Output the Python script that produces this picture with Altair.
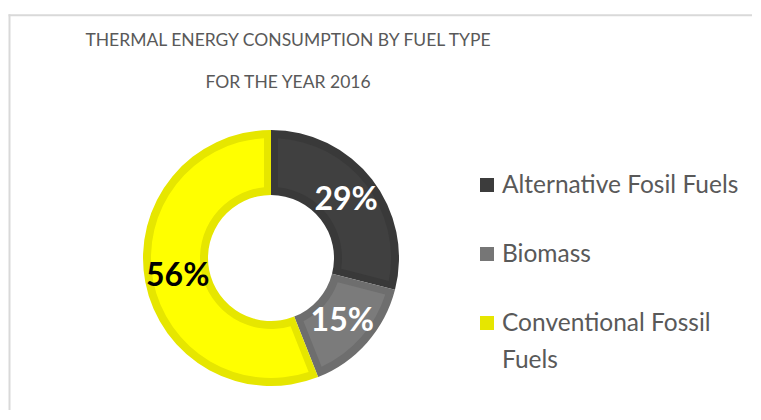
import altair as alt
import pandas as pd

categories = ["Alternative Fosil Fuels", "Biomass", "Conventional Fossil Fuels"]
shares = [29, 15, 56]
pct_labels = ["29%", "15%", "56%"]
legend_labels = ["Alternative Fosil Fuels", "Biomass", "Conventional Fossil\nFuels"]
fill_colors = ["#404040", "#7b7b7b", "#ffff00"]
border_colors = ["#393939", "#6e6e6e", "#e6e600"]
swatch_colors = ["#3c3c3c", "#767676", "#e6e600"]
pct_colors = ["#ffffff", "#ffffff", "#000000"]
title_lines = ["THERMAL ENERGY CONSUMPTION BY FUEL TYPE", "FOR THE YEAR 2016"]

df = pd.DataFrame({
    "cat": categories,
    "share": shares,
    "pct": pct_labels,
    "legend": legend_labels,
    "fill": fill_colors,
    "border": border_colors,
    "swatch": swatch_colors,
    "pcolor": pct_colors,
    "order": list(range(len(categories))),
})

CX, CY = 263, 250
FONT = "Lato"
GRAY = "#595959"

base = alt.Chart(df)
theta = alt.Theta("share:Q", stack=True)
order = alt.Order("order:Q")

ring = base.mark_arc(innerRadius=63, outerRadius=128, x=CX, y=CY).encode(
    theta=theta, order=order, fill=alt.Fill("border:N", scale=None)
)
inner = base.mark_arc(innerRadius=71, outerRadius=120, padAngle=0.1, x=CX, y=CY).encode(
    theta=theta, order=order, fill=alt.Fill("fill:N", scale=None)
)
pct = base.mark_text(radius=95, x=CX, y=CY, font=FONT, fontSize=32, fontWeight="bold",
                     align="center", baseline="middle").encode(
    theta=theta, order=order, text="pct:N", fill=alt.Fill("pcolor:N", scale=None)
)

yscale = alt.Scale(type="point", domain=categories, range=[177, 315], padding=0)
leg_sq = base.mark_square(size=196, x=479, filled=True, opacity=1).encode(
    y=alt.Y("cat:N", scale=yscale, axis=None),
    fill=alt.Fill("swatch:N", scale=None),
)
leg_tx = base.mark_text(x=494, align="left", baseline="alphabetic", dy=8, lineBreak="\n",
                        font=FONT, fontSize=24.5, color=GRAY, lineHeight=37).encode(
    y=alt.Y("cat:N", scale=yscale, axis=None),
    text="legend:N",
)

one = alt.Chart(pd.DataFrame({"a": [0]}))
title = one.mark_text(text=title_lines, align="center", baseline="alphabetic", lineHeight=42,
                      font=FONT, fontSize=17.5, color=GRAY).encode(
    x=alt.value(280), y=alt.value(38)
)
border = one.mark_rule(color="#d9d9d9", strokeWidth=2)
left_line = border.encode(x=alt.value(1.5), y=alt.value(6.3), y2=alt.value(402))
top_line = border.encode(x=alt.value(0.5), x2=alt.value(744), y=alt.value(7.3))

chart = alt.layer(left_line, top_line, ring, inner, pct, leg_sq, leg_tx, title).properties(
    width=744, height=402, autosize="none", padding=0
).configure_view(stroke=None)

chart.save("out.html", embed_options={"renderer": "svg", "actions": False})
